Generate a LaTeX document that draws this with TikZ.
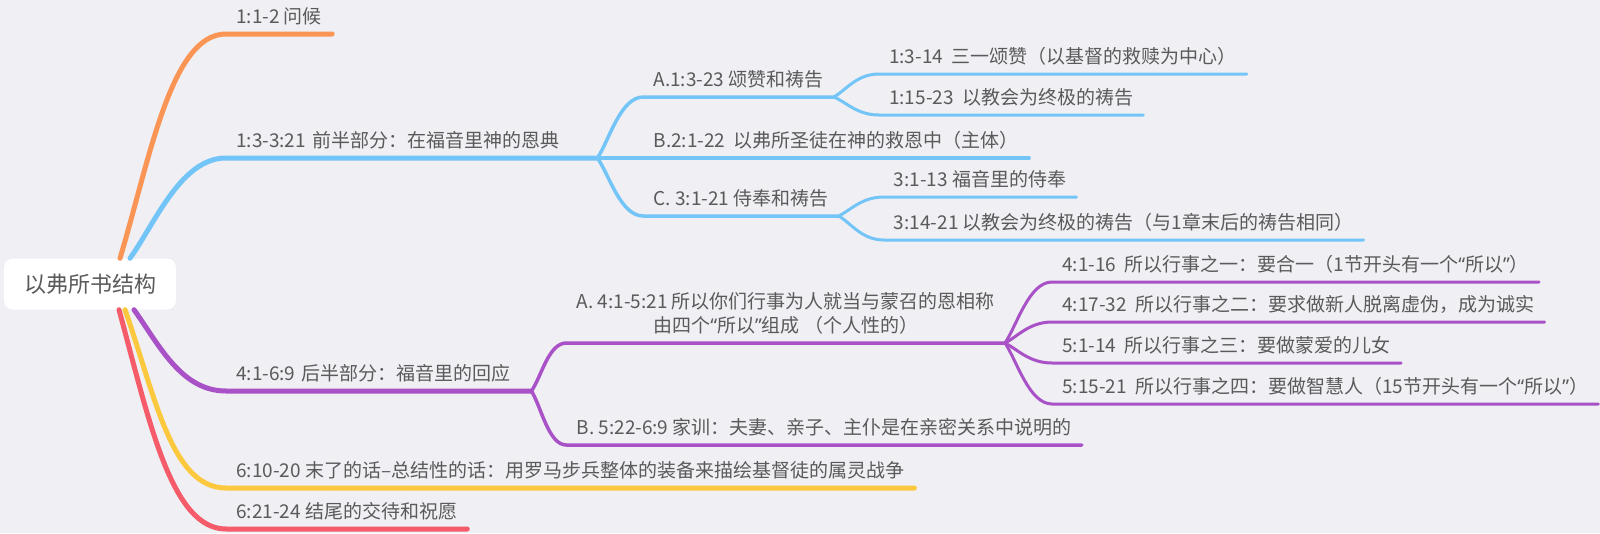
\documentclass[tikz,border=0pt]{standalone}
\usepackage{fontspec}
\setmainfont{Noto Sans CJK SC}
\newfontfamily\qfont{Noto Sans}
\newcommand{\qopen}{{\qfont “}}
\newcommand{\qclose}{{\qfont ”}}
\usepackage{tikz}
\usetikzlibrary{positioning}

\definecolor{bgc}{HTML}{EFEFF4}
\definecolor{textc}{HTML}{5A5A5A}
\definecolor{orangec}{HTML}{FA9556}
\definecolor{bluec}{HTML}{74C5F7}
\definecolor{purplec}{HTML}{A951C6}
\definecolor{yellowc}{HTML}{FCC93E}
\definecolor{redc}{HTML}{F55B69}

\begin{document}
\begin{tikzpicture}[x=1pt, y=1pt]
        % Styles
        \tikzstyle{topic} = [anchor=south west, inner xsep=10pt, inner ysep=4pt,
        text height=15pt, text depth=6pt, text=textc,
        font=\fontsize{19pt}{24pt}\selectfont]
        \tikzstyle{central} = [rectangle, rounded corners=9pt, fill=white,
        minimum width=172pt, minimum height=51pt, text=textc,
        font=\fontsize{22pt}{26pt}\selectfont]
        \tikzstyle{branch} = [line width=5pt, line cap=round]
        \tikzstyle{subbranch} = [line width=3.5pt, line cap=round]
        \tikzstyle{leaf} = [line width=3pt, line cap=round]

        \path[use as bounding box, fill=bgc] (0,0) rectangle (1600,-533);

        % Nodes
        \node (root) [central] at (90,-284) {以弗所书结构};

        \node (greet) [topic] at (226,-34) {1:1-2 问候};
        \node (grace) [topic, text width=351pt, align=left] at (226,-158)
        {1:3-3:21 前半部分：在福音里神的恩典};
        \node (praise) [topic, above right=61pt and 46pt of grace.south east]
        {A.1:3-23 颂赞和祷告};
        \node (praiseA) [topic, above right=23pt and 45pt of praise.south east]
        {1:3-14\ \ 三一颂赞（以基督的救赎为中心）};
        \node (praiseB) [topic, above right=-18pt and 45pt of praise.south east]
        {1:15-23\ \ 以教会为终极的祷告};
        \node (saints) [topic, above right=0pt and 46pt of grace.south east]
        {B.2:1-22\ \ 以弗所圣徒在神的救恩中（主体）};
        \node (serve) [topic, above right=-58pt and 46pt of grace.south east]
        {C. 3:1-21 侍奉和祷告};
        \node (serveA) [topic, above right=19pt and 45pt of serve.south east]
        {3:1-13 福音里的侍奉};
        \node (serveB) [topic, above right=-24pt and 45pt of serve.south east]
        {3:14-21 以教会为终极的祷告（与1章末后的祷告相同）};

        \node (response) [topic, text width=285pt, align=left] at (226,-391)
        {4:1-6:9 后半部分：福音里的回应};
        \node (walk) [topic, align=center, above right=48pt and 35pt of response.south east]
        {A. 4:1-5:21 所以你们行事为人就当与蒙召的恩相称\\由四个\qopen 所以\qclose 组成 （个人性的）};
        \node (walkA) [topic, above right=61pt and 47pt of walk.south east]
        {4:1-16\ \ 所以行事之一：要合一（1节开头有一个\qopen 所以\qclose ）};
        \node (walkB) [topic, above right=21pt and 47pt of walk.south east]
        {4:17-32\ \ 所以行事之二：要求做新人脱离虚伪，成为诚实};
        \node (walkC) [topic, above right=-20pt and 47pt of walk.south east]
        {5:1-14\ \ 所以行事之三：要做蒙爱的儿女};
        \node (walkD) [topic, above right=-61pt and 47pt of walk.south east]
        {5:15-21\ \ 所以行事之四：要做智慧人（15节开头有一个\qopen 所以\qclose ）};
        \node (house) [topic, above right=-54pt and 35pt of response.south east]
        {B. 5:22-6:9 家训：夫妻、亲子、主仆是在亲密关系中说明的};

        \node (armor) [topic] at (226,-488)
        {6:10-20 末了的话–总结性的话：用罗马步兵整体的装备来描绘基督徒的属灵战争};
        \node (farewell) [topic] at (226,-529) {6:21-24 结尾的交待和祝愿};

        % Branches
        \draw[branch, orangec] ([xshift=30pt]root.north) .. controls +(30,100) and +(-55,0) ..
        (greet.south west) -- (greet.south east);
        \draw[branch, bluec] ([xshift=40pt]root.north) .. controls +(25,35) and +(-45,0) ..
        (grace.south west) -- (grace.south east);
        \draw[branch, purplec] ([xshift=44pt]root.south) .. controls +(25,-35) and +(-45,0) ..
        (response.south west) -- (response.south east);
        \draw[branch, yellowc] ([xshift=35pt]root.south) .. controls +(30,-85) and +(-55,0) ..
        (armor.south west) -- (armor.south east);
        \draw[branch, redc] ([xshift=29pt]root.south) .. controls +(30,-110) and +(-55,0) ..
        (farewell.south west) -- (farewell.south east);

        \draw[subbranch, bluec] (grace.south east) .. controls +(12,18) and +(-23,0) ..
        (praise.south west) -- (praise.south east);
        \draw[subbranch, bluec] (grace.south east) -- (saints.south west) -- (saints.south east);
        \draw[subbranch, bluec] (grace.south east) .. controls +(12,-17) and +(-23,0) ..
        (serve.south west) -- (serve.south east);
        \draw[leaf, bluec] (praise.south east) .. controls +(12,7) and +(-22,0) ..
        (praiseA.south west) -- (praiseA.south east);
        \draw[leaf, bluec] (praise.south east) .. controls +(12,-5) and +(-22,0) ..
        (praiseB.south west) -- (praiseB.south east);
        \draw[leaf, bluec] (serve.south east) .. controls +(12,6) and +(-22,0) ..
        (serveA.south west) -- (serveA.south east);
        \draw[leaf, bluec] (serve.south east) .. controls +(12,-7) and +(-22,0) ..
        (serveB.south west) -- (serveB.south east);

        \draw[subbranch, purplec] (response.south east) .. controls +(10,14) and +(-18,0) ..
        (walk.south west) -- (walk.south east);
        \draw[subbranch, purplec] (response.south east) .. controls +(10,-16) and +(-18,0) ..
        (house.south west) -- (house.south east);
        \draw[leaf, purplec] (walk.south east) .. controls +(12,18) and +(-23,0) ..
        (walkA.south west) -- (walkA.south east);
        \draw[leaf, purplec] (walk.south east) .. controls +(12,6) and +(-23,0) ..
        (walkB.south west) -- (walkB.south east);
        \draw[leaf, purplec] (walk.south east) .. controls +(12,-6) and +(-23,0) ..
        (walkC.south west) -- (walkC.south east);
        \draw[leaf, purplec] (walk.south east) .. controls +(12,-18) and +(-23,0) ..
        (walkD.south west) -- (walkD.south east);
\end{tikzpicture}
\end{document}
